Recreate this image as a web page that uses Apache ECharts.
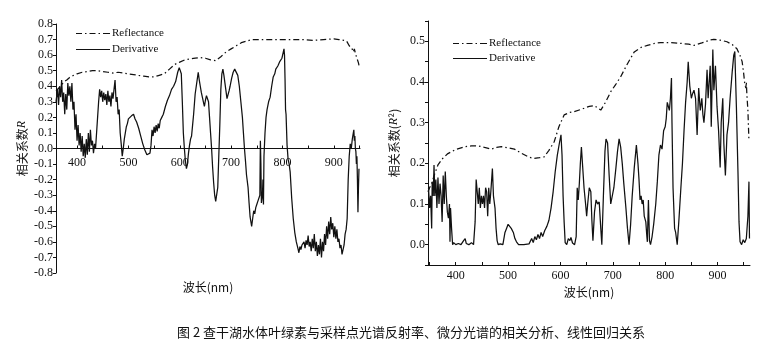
<!DOCTYPE html>
<html><head><meta charset="utf-8">
<script src="https://cdn.jsdelivr.net/npm/echarts@6/dist/echarts.min.js"></script>
<style>html,body{margin:0;padding:0;background:#fff}#c{width:783px;height:353px}</style>
</head><body><div id="c"></div>
<script>
// ---------- Left panel (correlation coefficient R) ----------
const leftReflNm  = [359,365,370,375,380,385,390,400,410,420,430,440,450,460,470,480,490,500,510,520,530,540,550,560,570,580,590,600,610,620,630,640,650,660,670,680,690,700,710,720,730,740,760,780,800,820,840,860,880,900,910,920,925,930,935,938,940,943,945,948,950];
const leftReflVal = [0.37,0.39,0.41,0.43,0.44,0.455,0.465,0.48,0.49,0.495,0.50,0.50,0.495,0.49,0.485,0.49,0.485,0.48,0.475,0.47,0.465,0.46,0.46,0.47,0.48,0.51,0.54,0.555,0.57,0.575,0.58,0.585,0.58,0.57,0.565,0.59,0.62,0.64,0.66,0.68,0.69,0.70,0.70,0.70,0.70,0.70,0.70,0.695,0.70,0.705,0.70,0.695,0.69,0.66,0.645,0.62,0.64,0.60,0.58,0.55,0.52];

const leftDerNm  = [359,362,364,366,368,370,372,374,376,378,380,382,384,386,388,390,392,394,396,398,400,402,404,406,408,410,412,414,416,418,420,422,424,426,428,430,432,434,436,438,440,442,444,446,448,450,452,454,456,458,460,462,464,466,468,470,472,474,476,478,480,482,484,486,488,490,492,494,496,498,500,503,506,508,510,513,516,520,524,528,532,536,539,542,544,546,548,550,552,554,556,558,560,562,565,568,572,576,580,584,588,592,596,599,601,603,605,607,609,611,613,615,617,619,621,623,625,627,630,633,636,638,640,642,644,646,648,650,652,654,656,658,660,662,664,666,668,670,672,674,676,678,680,682,684,686,688,690,692,694,696,698,701,704,707,710,713,716,719,722,724,726,728,730,733,735,737,739,740,742,744,746,748,750,752,754,756,757,758,759,761,762,763,764,766,768,770,773,776,779,782,785,787,789,791,793,795,797,799,801,802,803,804,805,806,807,809,811,813,815,818,821,824,827,830,832,834,836,838,840,842,844,846,848,850,852,854,856,858,860,862,864,866,868,870,872,874,876,878,880,882,884,886,888,890,892,894,896,898,900,902,904,906,908,910,912,914,916,918,920,922,924,926,928,930,932,934,936,938,939,940,941,942,943,944,945,946,947,948,949];
const leftDerVal = [0.30,0.38,0.28,0.40,0.33,0.44,0.30,0.36,0.22,0.35,0.25,0.42,0.34,0.40,0.30,0.42,0.25,0.30,0.12,0.22,0.05,0.15,0.02,0.10,-0.02,0.08,-0.05,0.03,-0.06,0.06,-0.04,0.10,-0.02,0.12,0.02,0.05,-0.03,0.03,0.00,0.10,0.20,0.30,0.38,0.33,0.37,0.30,0.36,0.31,0.35,0.28,0.37,0.30,0.34,0.27,0.36,0.32,0.38,0.44,0.30,0.33,0.22,0.25,0.10,0.03,-0.05,0.00,0.06,0.10,0.14,0.16,0.19,0.18,0.21,0.20,0.22,0.19,0.17,0.13,0.08,0.03,-0.01,-0.04,-0.05,-0.03,0.02,0.12,0.08,0.14,0.10,0.15,0.11,0.16,0.13,0.18,0.20,0.22,0.27,0.31,0.34,0.38,0.40,0.43,0.49,0.52,0.53,0.48,0.30,0.10,0.00,-0.08,-0.13,-0.10,-0.03,0.02,0.06,0.08,0.15,0.22,0.35,0.42,0.49,0.44,0.40,0.36,0.33,0.30,0.27,0.31,0.34,0.35,0.30,0.20,0.10,0.00,-0.12,-0.22,-0.30,-0.34,-0.33,-0.25,-0.05,0.15,0.38,0.48,0.51,0.47,0.42,0.37,0.32,0.33,0.37,0.40,0.45,0.49,0.51,0.50,0.47,0.40,0.30,0.20,0.10,0.00,-0.08,-0.17,-0.25,-0.35,-0.44,-0.48,-0.50,-0.45,-0.40,-0.42,-0.38,-0.36,-0.34,-0.33,-0.30,0.05,-0.10,-0.35,-0.30,-0.20,-0.36,-0.05,0.10,0.20,0.25,0.30,0.33,0.40,0.46,0.48,0.51,0.50,0.53,0.52,0.56,0.55,0.58,0.59,0.57,0.64,0.60,0.45,0.25,0.22,0.02,-0.07,-0.10,-0.15,-0.32,-0.45,-0.54,-0.60,-0.64,-0.67,-0.63,-0.65,-0.62,-0.63,-0.60,-0.64,-0.59,-0.62,-0.56,-0.63,-0.60,-0.66,-0.58,-0.64,-0.55,-0.66,-0.60,-0.69,-0.62,-0.68,-0.58,-0.70,-0.60,-0.66,-0.55,-0.62,-0.50,-0.58,-0.47,-0.55,-0.44,-0.52,-0.48,-0.57,-0.50,-0.58,-0.52,-0.60,-0.58,-0.64,-0.62,-0.68,-0.69,-0.62,-0.55,-0.52,-0.45,-0.20,-0.05,0.03,0.00,0.06,0.10,0.12,0.05,0.08,0.00,-0.02,-0.10,-0.05,-0.20,-0.41,-0.25,-0.13];

const leftYTicks = [-0.8,-0.7,-0.6,-0.5,-0.4,-0.3,-0.2,-0.1,0.0,0.1,0.2,0.3,0.4,0.5,0.6,0.7,0.8];
const leftXLabels = [400,500,600,700,800,900];
const leftXTicks = [400,450,500,550,600,650,700,750,800,850,900,950];

// ---------- Right panel (R^2) ----------
const rightReflNm  = [347,350,354,360,366,375,385,400,417,430,443,455,468,478,487,500,512,525,540,550,560,569,578,588,597,607,617,626,640,655,665,672,677,686,696,706,715,728,741,754,766,780,791,810,830,845,855,870,885,893,905,918,928,937,943,947,950,952,954,955,956,958,960];
const rightReflVal = [0.13,0.14,0.15,0.175,0.196,0.212,0.224,0.234,0.241,0.243,0.243,0.239,0.235,0.239,0.241,0.238,0.235,0.225,0.215,0.212,0.214,0.216,0.232,0.253,0.29,0.319,0.325,0.327,0.333,0.340,0.342,0.335,0.331,0.35,0.376,0.395,0.413,0.445,0.474,0.485,0.49,0.495,0.497,0.497,0.495,0.493,0.49,0.496,0.503,0.505,0.503,0.499,0.492,0.482,0.465,0.45,0.42,0.395,0.385,0.40,0.37,0.33,0.255];

const rightDerNm  = [348,350,352,354,355,357,358.5,360,362,364,366,368,370,372,374,376,378,380,382,384,386,388,389,390,392,394,396,400,405,410,415,418,420,425,430,434,437,439,441,443,445,447,449,451,453,455,457,459,461,463,465,467,470,472,475,477,479,481,485,490,494,497,500,503,506,510,513,516,520,530,540,545,548,551,554,557,560,563,566,570,574,578,582,586,590,594,598,601,603,605,607,609,612,615,618,620,623,627,630,632,634,636,638,640,643,645,648,650,652,655,658,660,662,665,668,671,674,677,679,682,685,687,690,693,696,699,702,706,709,712,715,718,721,725,728,731,734,737,741,745,748,750,752,754,756,758,760,763,765,766,768,770,772,775,778,782,785,788,791,794,797,800,802,804,806,808,810,812,813,815,818,820,823,826,830,833,836,839,842,844,846,847,850,852,855,858,861,864,867,870,872,874,877,880,882,884,886,888,891,893,896,899,902,905,907,910,912,915,918,921,924,928,931,933,936,939,941,943,946,949,952,955,958,960,961];
const rightDerVal = [0.14,0.09,0.12,0.04,0.155,0.12,0.196,0.12,0.16,0.09,0.165,0.10,0.15,0.12,0.056,0.17,0.10,0.18,0.12,0.08,0.065,0.10,0.007,0.09,0.04,0.0,0.005,0.0,0.003,0.0,0.01,0.015,0.003,0.0,0.005,0.0,0.056,0.16,0.13,0.10,0.14,0.09,0.12,0.10,0.12,0.09,0.14,0.13,0.07,0.14,0.10,0.13,0.187,0.12,0.09,0.04,0.01,0.0,0.002,0.0,0.03,0.04,0.05,0.045,0.04,0.03,0.015,0.007,0.0,0.0,0.002,0.015,0.005,0.02,0.012,0.025,0.015,0.03,0.02,0.035,0.045,0.06,0.09,0.13,0.18,0.22,0.25,0.27,0.22,0.12,0.056,0.005,0.0,0.015,0.01,0.018,0.004,0.0,0.02,0.14,0.11,0.15,0.20,0.24,0.18,0.14,0.10,0.07,0.10,0.14,0.13,0.06,0.01,0.08,0.11,0.10,0.105,0.04,0.0,0.12,0.23,0.26,0.25,0.17,0.10,0.10,0.14,0.19,0.23,0.26,0.24,0.20,0.15,0.09,0.04,0.0,0.05,0.12,0.19,0.245,0.20,0.16,0.11,0.12,0.10,0.11,0.07,0.056,0.02,0.007,0.11,0.01,0.0,0.02,0.05,0.10,0.155,0.22,0.245,0.235,0.28,0.29,0.31,0.35,0.34,0.33,0.36,0.41,0.30,0.14,0.04,0.03,0.0,0.056,0.14,0.20,0.28,0.35,0.40,0.45,0.41,0.39,0.36,0.37,0.38,0.36,0.27,0.385,0.33,0.36,0.32,0.30,0.345,0.43,0.36,0.40,0.44,0.29,0.48,0.38,0.44,0.34,0.28,0.19,0.30,0.36,0.25,0.17,0.27,0.30,0.36,0.425,0.466,0.475,0.34,0.18,0.056,0.007,0.0,0.012,0.005,0.015,0.07,0.155,0.015];

const rightYLabels = [0.0,0.1,0.2,0.3,0.4,0.5];
const rightYTicks = [-0.05,0.0,0.05,0.1,0.15,0.2,0.25,0.3,0.35,0.4,0.45,0.5,0.55];
const rightXLabels = [400,500,600,700,800,900];
const rightXTicks = [350,400,450,500,550,600,650,700,750,800,850,900,950];

const seriesNames = ['Reflectance','Derivative'];
const caption = '图 2 查干湖水体叶绿素与采样点光谱反射率、微分光谱的相关分析、线性回归关系';

const zip = (a, b) => a.map((v, i) => [v, b[i]]);
const serif = 'Liberation Serif';
const cjk = 'Noto Sans CJK SC';
const ink = '#111';
const dashDot = [6, 3, 1.5, 3];
// legend sample glyphs (filled thin bars imitating the line styles)
const iconDashDot = 'path://M0,0h6v1.2h-6z M9,0h1.5v1.2h-1.5z M13.5,0h6v1.2h-6z M22.5,0h1.5v1.2h-1.5z M27,0h7v1.2h-7z';
const iconSolid = 'path://M0,0h34v1.2h-34z';

function xAxisCfg(gridIndex, min, max, labels, ticks, name, gap, offset, margin) {
  return {
    type: 'value', gridIndex, min, max, position: 'bottom', offset,
    name, nameLocation: 'middle', nameGap: gap,
    nameTextStyle: {fontFamily: cjk, fontSize: 12, color: ink},
    axisLine: {onZero: false, lineStyle: {color: ink, width: 1}},
    axisTick: {show: true, inside: true, length: 3, customValues: ticks, lineStyle: {color: ink}},
    axisLabel: {customValues: labels, fontFamily: serif, fontSize: 12, color: ink, margin},
    splitLine: {show: false}
  };
}
function yAxisCfg(gridIndex, min, max, labels, ticks, name, gap) {
  return {
    type: 'value', gridIndex, min, max,
    name, nameLocation: 'middle', nameGap: gap, nameRotate: 90,
    nameTextStyle: {fontFamily: cjk, fontSize: 12, color: ink,
      rich: {i: {fontFamily: serif, fontStyle: 'italic', fontSize: 12, color: ink}}},
    axisLine: {show: true, onZero: false, lineStyle: {color: ink, width: 1}},
    axisTick: {show: true, length: 3, customValues: ticks, lineStyle: {color: ink}},
    axisLabel: {customValues: labels, showMinLabel: true, showMaxLabel: true, hideOverlap: false,
      fontFamily: serif, fontSize: 12, color: ink, margin: 3,
      formatter: v => v.toFixed(1)},
    splitLine: {show: false}
  };
}
function lineSeries(name, idx, nm, val, dashed) {
  return {
    name, type: 'line', xAxisIndex: idx, yAxisIndex: idx,
    data: zip(nm, val), showSymbol: false, symbol: 'none', animation: false,
    lineStyle: {color: ink, width: 1.25, type: dashed ? dashDot : 'solid'},
    itemStyle: {color: ink}
  };
}
const legendData = [{name: 'Reflectance', icon: iconDashDot}, {name: 'Derivative', icon: iconSolid}];

const chart = echarts.init(document.getElementById('c'), null, {renderer: 'canvas'});
chart.setOption({
  backgroundColor: '#fff',
  animation: false,
  title: {text: caption, left: 172, top: 321,
    textStyle: {fontFamily: cjk, fontSize: 13, fontWeight: 'normal', color: ink}},
  legend: [
    {data: legendData, orient: 'vertical', left: 71, top: 23, itemGap: 5, itemWidth: 34, itemHeight: 8,
     textStyle: {fontFamily: serif, fontSize: 11, color: ink, padding: [0,0,0,-3]}},
    {data: legendData, orient: 'vertical', left: 448, top: 33, itemGap: 4, itemWidth: 34, itemHeight: 8,
     textStyle: {fontFamily: serif, fontSize: 11, color: ink, padding: [0,0,0,-3]}}
  ],
  grid: [
    {left: 56, top: 24, width: 304, height: 249, containLabel: false, outerBoundsMode: 'none'},
    {left: 428, top: 21, width: 322, height: 244, containLabel: false, outerBoundsMode: 'none'}
  ],
  xAxis: [
    xAxisCfg(0, 359, 951, leftXLabels, leftXTicks, '波长(nm)', 133, -124.5, 8),
    xAxisCfg(1, 347, 962, rightXLabels, rightXTicks, '波长(nm)', 19, 0, 5)
  ],
  yAxis: [
    yAxisCfg(0, -0.8, 0.8, leftYTicks, leftYTicks, '相关系数{i|R}', 28),
    yAxisCfg(1, -0.05, 0.55, rightYLabels, rightYTicks, '相关系数({i|R}²)', 28)
  ],
  series: [
    lineSeries('Reflectance', 0, leftReflNm, leftReflVal, true),
    lineSeries('Derivative', 0, leftDerNm, leftDerVal, false),
    lineSeries('Reflectance', 1, rightReflNm, rightReflVal, true),
    lineSeries('Derivative', 1, rightDerNm, rightDerVal, false)
  ]
});
</script></body></html>
